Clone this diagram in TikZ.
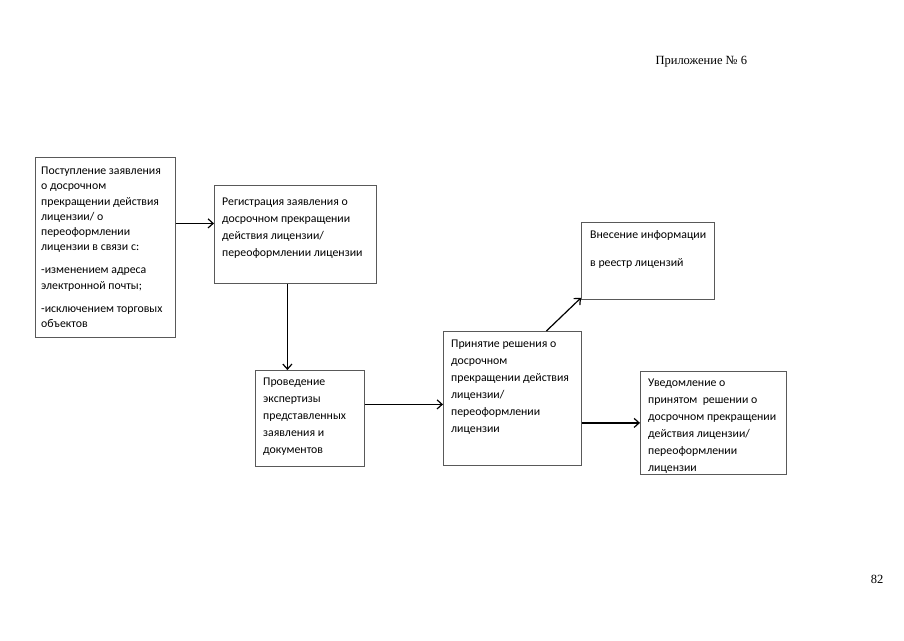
\documentclass[tikz,border=0pt]{standalone}
\usepackage{fontspec}
\setmainfont{Liberation Serif}
\newfontfamily\boxfont{Carlito}
\usetikzlibrary{arrows.meta, positioning, calc}

\tikzset{
  stage/.style={draw=black!65, line width=0.8pt, inner sep=0, anchor=north west},
  stagetext/.style={anchor=north west, inner sep=0, align=left,
    font=\boxfont\fontsize{11.8}{17}\selectfont},
  flow/.style={line width=1.2pt, -{Straight Barb[length=5pt,width=9pt]}}
}

\begin{document}
\begin{tikzpicture}[x=1pt, y=-1pt]
  \fill[white] (0,0) rectangle (904,640);
  \useasboundingbox (0,0) rectangle (904,640);

  % page header and number
  \node[anchor=base west, font=\fontsize{12.5}{15}\selectfont] (appx) at (652,64) {Приложение № 6};
  \node[anchor=base east, font=\fontsize{12.5}{15}\selectfont] (pagenr) at (887,583) {82};

  % boxes
  \node[stage, minimum width=140, minimum height=180] (recv) at (35,157) {};
  \node[stage, minimum width=162, minimum height=98] (reg) at (214,185) {};
  \node[stage, minimum width=109, minimum height=96] (exam) at (255,370) {};
  \node[stage, minimum width=138, minimum height=134] (decide) at (443,331) {};
  \node[stage, minimum width=133, minimum height=77] (regist) at (581,222) {};
  \node[stage, minimum width=146, minimum height=103] (notify) at (640,371) {};

  % box texts
  \node[stagetext, font=\boxfont\fontsize{11.8}{15.2}\selectfont] (recvtxt) at ($(recv.north west)+(6,10)$)
    {Поступление заявления\\ о досрочном\\ прекращении действия\\ лицензии/ о\\ переоформлении\\
     лицензии в связи с:\\[8pt] -изменением адреса\\ электронной почты;\\[8pt]
     -исключением торговых\\ объектов};
  \node[stagetext] (regtxt) at ($(reg.north west)+(8,13)$)
    {Регистрация заявления о\\ досрочном прекращении\\ действия лицензии/\\ переоформлении лицензии};
  \node[stagetext] (examtxt) at ($(exam.north west)+(8,8)$)
    {Проведение\\ экспертизы\\ представленных\\ заявления и\\ документов};
  \node[stagetext] (decidetxt) at ($(decide.north west)+(8,9)$)
    {Принятие решения о\\ досрочном\\ прекращении действия\\ лицензии/\\ переоформлении\\ лицензии};
  \node[stagetext] (registtxt) at ($(regist.north west)+(9,8)$)
    {Внесение информации\\[11pt] в реестр лицензий};
  \node[stagetext] (notifytxt) at ($(notify.north west)+(8,8)$)
    {Уведомление о\\ принятом\ \ решении о\\ досрочном прекращении\\ действия лицензии/\\
     переоформлении\\ лицензии};

  % connectors
  \draw[flow] ([yshift=24pt]recv.east) coordinate (a1) -- (a1 -| reg.west);
  \draw[flow] ([xshift=-8pt]reg.south) coordinate (a2) -- (a2 |- exam.north);
  \draw[flow] ([yshift=14pt]exam.east) coordinate (a3) -- (a3 -| decide.west);
  \draw[flow] ([xshift=34pt]decide.north) -- ([yshift=2pt]regist.south west);
  \draw[flow] (notify.west -| decide.east) -- (notify.west);
\end{tikzpicture}
\end{document}
